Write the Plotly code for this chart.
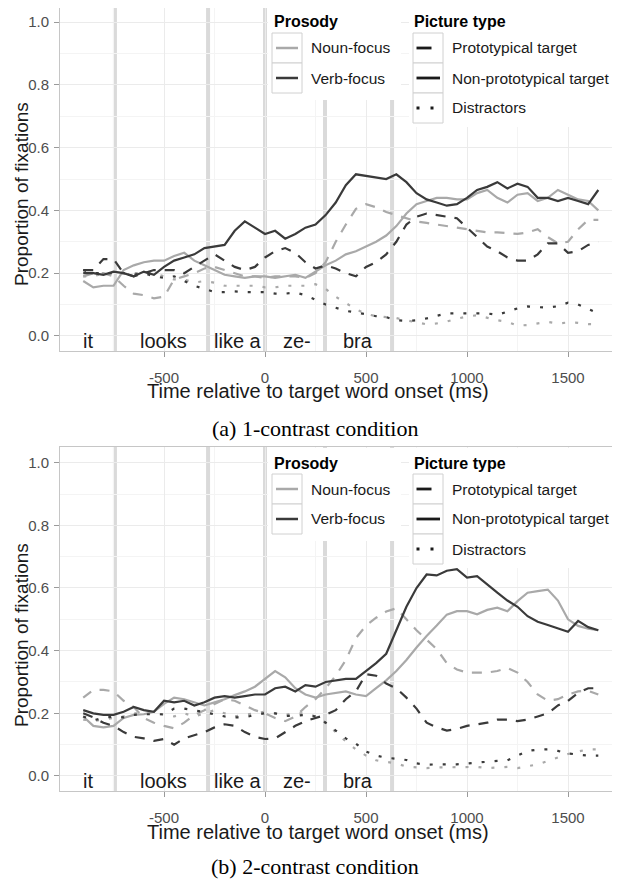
import plotly.graph_objects as go

# ---------------- data ----------------
times = [-900, -850, -800, -750, -700, -650, -600, -550, -500, -450,
         -400, -350, -300, -250, -200, -150, -100, -50, 0, 50,
         100, 150, 200, 250, 300, 350, 400, 450, 500, 550,
         600, 650, 700, 750, 800, 850, 900, 950, 1000, 1050,
         1100, 1150, 1200, 1250, 1300, 1350, 1400, 1450, 1500, 1550,
         1600, 1650]

# (a) 1-contrast condition
a_noun_proto = [0.19, 0.20, 0.20, 0.19, 0.16, 0.135, 0.13, 0.12, 0.125, 0.18,
                0.19, 0.20, 0.215, 0.22, 0.21, 0.20, 0.19, 0.19, 0.185, 0.19,
                0.19, 0.19, 0.185, 0.20, 0.235, 0.30, 0.355, 0.405, 0.42, 0.41,
                0.395, 0.385, 0.375, 0.365, 0.36, 0.355, 0.35, 0.345, 0.34, 0.335,
                0.33, 0.33, 0.328, 0.325, 0.33, 0.34, 0.315, 0.295, 0.30, 0.34,
                0.37, 0.37]
a_noun_nonproto = [0.175, 0.155, 0.16, 0.16, 0.21, 0.225, 0.235, 0.24, 0.24, 0.255,
                   0.265, 0.24, 0.225, 0.21, 0.195, 0.19, 0.185, 0.19, 0.19, 0.185,
                   0.19, 0.195, 0.185, 0.205, 0.225, 0.24, 0.26, 0.27, 0.285, 0.30,
                   0.32, 0.35, 0.39, 0.42, 0.43, 0.44, 0.44, 0.435, 0.435, 0.455,
                   0.465, 0.44, 0.425, 0.45, 0.455, 0.43, 0.44, 0.465, 0.45, 0.435,
                   0.43, 0.40]
a_noun_distr = [0.19, 0.19, 0.20, 0.20, 0.20, 0.20, 0.20, 0.20, 0.19, 0.18,
                0.18, 0.17, 0.175, 0.17, 0.16, 0.16, 0.16, 0.16, 0.155, 0.155,
                0.16, 0.16, 0.16, 0.165, 0.15, 0.125, 0.105, 0.085, 0.07, 0.063,
                0.06, 0.057, 0.05, 0.043, 0.037, 0.04, 0.046, 0.055, 0.062, 0.066,
                0.058, 0.05, 0.045, 0.033, 0.035, 0.04, 0.045, 0.04, 0.043, 0.042,
                0.038, 0.038]
a_verb_proto = [0.21, 0.21, 0.245, 0.245, 0.20, 0.19, 0.20, 0.21, 0.21, 0.21,
                0.20, 0.22, 0.24, 0.26, 0.24, 0.22, 0.21, 0.22, 0.25, 0.27,
                0.28, 0.265, 0.235, 0.215, 0.225, 0.215, 0.20, 0.19, 0.22, 0.235,
                0.26, 0.30, 0.355, 0.38, 0.39, 0.385, 0.38, 0.375, 0.345, 0.315,
                0.285, 0.27, 0.25, 0.24, 0.24, 0.26, 0.295, 0.295, 0.265, 0.27,
                0.29, 0.30]
a_verb_nonproto = [0.20, 0.20, 0.195, 0.205, 0.20, 0.19, 0.205, 0.195, 0.22, 0.24,
                   0.25, 0.26, 0.28, 0.285, 0.29, 0.335, 0.365, 0.345, 0.325, 0.335,
                   0.31, 0.325, 0.345, 0.355, 0.385, 0.425, 0.48, 0.515, 0.51, 0.505,
                   0.50, 0.515, 0.49, 0.455, 0.435, 0.425, 0.415, 0.42, 0.44, 0.465,
                   0.475, 0.49, 0.47, 0.485, 0.475, 0.44, 0.44, 0.43, 0.44, 0.43,
                   0.42, 0.465]
a_verb_distr = [0.21, 0.20, 0.20, 0.20, 0.20, 0.195, 0.20, 0.19, 0.185, 0.19,
                0.175, 0.16, 0.15, 0.14, 0.14, 0.142, 0.14, 0.14, 0.14, 0.135,
                0.135, 0.138, 0.13, 0.115, 0.10, 0.09, 0.08, 0.075, 0.068, 0.063,
                0.06, 0.05, 0.048, 0.05, 0.056, 0.065, 0.072, 0.072, 0.072, 0.072,
                0.072, 0.067, 0.078, 0.088, 0.094, 0.092, 0.09, 0.095, 0.106, 0.10,
                0.085, 0.072]

# (b) 2-contrast condition
b_noun_proto = [0.25, 0.275, 0.275, 0.27, 0.24, 0.22, 0.185, 0.17, 0.16, 0.152,
                0.17, 0.195, 0.21, 0.23, 0.245, 0.24, 0.225, 0.21, 0.20, 0.185,
                0.175, 0.19, 0.22, 0.245, 0.28, 0.32, 0.37, 0.44, 0.48, 0.505,
                0.525, 0.535, 0.50, 0.465, 0.435, 0.405, 0.36, 0.34, 0.33, 0.33,
                0.33, 0.335, 0.345, 0.33, 0.30, 0.26, 0.24, 0.245, 0.26, 0.27,
                0.272, 0.26]
b_noun_nonproto = [0.19, 0.16, 0.155, 0.16, 0.185, 0.195, 0.197, 0.205, 0.23, 0.25,
                   0.245, 0.235, 0.225, 0.235, 0.245, 0.258, 0.27, 0.285, 0.31, 0.335,
                   0.315, 0.28, 0.26, 0.25, 0.26, 0.265, 0.27, 0.26, 0.255, 0.28,
                   0.305, 0.335, 0.37, 0.41, 0.447, 0.48, 0.515, 0.526, 0.526, 0.516,
                   0.53, 0.537, 0.526, 0.558, 0.585, 0.59, 0.595, 0.56, 0.50, 0.479,
                   0.47, 0.465]
b_noun_distr = [0.18, 0.175, 0.18, 0.185, 0.19, 0.20, 0.20, 0.20, 0.195, 0.19,
                0.20, 0.19, 0.20, 0.21, 0.20, 0.19, 0.195, 0.20, 0.205, 0.20,
                0.195, 0.20, 0.20, 0.19, 0.17, 0.14, 0.11, 0.085, 0.065, 0.05,
                0.045, 0.04, 0.03, 0.027, 0.025, 0.027, 0.028, 0.028, 0.029, 0.029,
                0.025, 0.028, 0.029, 0.025, 0.03, 0.037, 0.048, 0.06, 0.07, 0.078,
                0.085, 0.085]
b_verb_proto = [0.20, 0.187, 0.17, 0.16, 0.14, 0.125, 0.12, 0.112, 0.118, 0.10,
                0.12, 0.13, 0.14, 0.155, 0.165, 0.16, 0.14, 0.125, 0.118, 0.12,
                0.14, 0.16, 0.175, 0.185, 0.195, 0.21, 0.245, 0.27, 0.325, 0.32,
                0.295, 0.28, 0.25, 0.215, 0.17, 0.155, 0.145, 0.15, 0.16, 0.165,
                0.17, 0.18, 0.18, 0.175, 0.18, 0.19, 0.20, 0.225, 0.24, 0.265,
                0.28, 0.28]
b_verb_nonproto = [0.21, 0.20, 0.195, 0.195, 0.205, 0.22, 0.21, 0.205, 0.24, 0.235,
                   0.24, 0.225, 0.235, 0.25, 0.255, 0.25, 0.255, 0.26, 0.26, 0.28,
                   0.285, 0.27, 0.29, 0.285, 0.30, 0.305, 0.31, 0.31, 0.335, 0.36,
                   0.39, 0.465, 0.54, 0.60, 0.643, 0.64, 0.655, 0.66, 0.633, 0.638,
                   0.61, 0.585, 0.56, 0.54, 0.51, 0.492, 0.482, 0.47, 0.46, 0.495,
                   0.475, 0.465]
b_verb_distr = [0.19, 0.178, 0.185, 0.19, 0.187, 0.195, 0.197, 0.197, 0.197, 0.215,
                0.215, 0.21, 0.203, 0.195, 0.19, 0.187, 0.187, 0.195, 0.20, 0.20,
                0.192, 0.192, 0.195, 0.19, 0.17, 0.145, 0.12, 0.103, 0.078, 0.065,
                0.058, 0.055, 0.051, 0.04, 0.036, 0.037, 0.037, 0.037, 0.04, 0.043,
                0.047, 0.048, 0.05, 0.065, 0.08, 0.084, 0.085, 0.08, 0.072, 0.068,
                0.065, 0.065]

prosody_labels = ["Noun-focus", "Verb-focus"]
picture_labels = ["Prototypical target", "Non-prototypical target", "Distractors"]
words = ["it", "looks", "like a", "ze-", "bra"]
word_positions = [-876, -505, -134, 158, 460]
word_boundaries = [-743, -282, 0, 297, 629]
x_tickvals = [-500, 0, 500, 1000, 1500]
x_ticktext = ["-500", "0", "500", "1000", "1500"]
x_minor = [-750, -250, 250, 750, 1250]
y_tickvals = [0.0, 0.2, 0.4, 0.6, 0.8, 1.0]
y_ticktext = ["0.0", "0.2", "0.4", "0.6", "0.8", "1.0"]
y_minor = [0.1, 0.3, 0.5, 0.7, 0.9]
captions = ["(a) 1-contrast condition", "(b) 2-contrast condition"]

# ---------------- styles ----------------
OFF = 8                      # page offset of the figure (body margin)
W, H = 620 - OFF, 880 - OFF  # figure size that fits the window
LIGHT = "#a9a9a9"
DARK = "#3a3a3a"
DASH = "10px,9px"
DOT = "3px,10px"
prosody_colors = [LIGHT, DARK]
picture_dashes = [DASH, "solid", DOT]
SANS = "Liberation Sans, Arial, sans-serif"
SERIF = "Liberation Serif, Times New Roman, serif"


def px(x):
    """page pixel x -> paper fraction"""
    return (x - OFF) / W


def py(y):
    """page pixel y -> paper fraction"""
    return 1 - (y - OFF) / H


fig = go.Figure()

panels = [
    dict(xa="x", ya="y", off=0,
         series=[[a_noun_proto, a_noun_nonproto, a_noun_distr],
                 [a_verb_proto, a_verb_nonproto, a_verb_distr]]),
    dict(xa="x2", ya="y2", off=441,
         series=[[b_noun_proto, b_noun_nonproto, b_noun_distr],
                 [b_verb_proto, b_verb_nonproto, b_verb_distr]]),
]

for p in panels:
    for ci, group in enumerate(p["series"]):
        for li, vals in enumerate(group):
            fig.add_trace(go.Scatter(
                x=times, y=vals, mode="lines",
                line=dict(color=prosody_colors[ci], width=2.2, dash=picture_dashes[li]),
                xaxis=p["xa"], yaxis=p["ya"], showlegend=False, hoverinfo="skip"))

axis_common = dict(
    showline=True, linecolor="#c6c6c6", linewidth=1, mirror=True,
    zeroline=False, showgrid=True, gridcolor="#ebebeb", gridwidth=1.3,
    ticks="outside", ticklen=5, tickcolor="#9a9a9a", tickwidth=1,
    tickfont=dict(family=SANS, size=15, color="#4d4d4d"),
)

ydomains = [[py(351), 1.0], [py(791), py(446.7)]]
yranges = [[-0.0478, 1.0446], [-0.048, 1.051]]
for i, p in enumerate(panels):
    xkey = "xaxis" if i == 0 else "xaxis2"
    ykey = "yaxis" if i == 0 else "yaxis2"
    fig.update_layout({
        xkey: dict(axis_common, domain=[px(60), 1], range=[-1015, 1757.4],
                   anchor=p["ya"], tickmode="array", tickvals=x_tickvals, ticktext=x_ticktext,
                   minor=dict(tickvals=x_minor, showgrid=True, gridcolor="#f4f4f4", ticks=""),
                   ticklabelstandoff=8),
        ykey: dict(axis_common, domain=ydomains[i], range=yranges[i],
                   anchor=p["xa"], tickmode="array", tickvals=y_tickvals, ticktext=y_ticktext,
                   minor=dict(tickvals=y_minor, showgrid=True, gridcolor="#f4f4f4", ticks=""),
                   ticklabelstandoff=2),
    })

shapes = []
annotations = []

for i, p in enumerate(panels):
    off = p["off"]
    yref_dom = p["ya"] + " domain"
    for b in word_boundaries:
        shapes.append(dict(type="line", xref=p["xa"], yref=yref_dom, x0=b, x1=b, y0=0, y1=1,
                           line=dict(color="#dadada", width=4), layer="below"))
    for w, wx in zip(words, word_positions):
        annotations.append(dict(xref=p["xa"], yref=p["ya"], x=wx, y=-0.016, text=w,
                                showarrow=False, font=dict(family=SANS, size=20, color="#1a1a1a")))
    # axis titles
    annotations.append(dict(xref="paper", yref="paper", x=px(318), y=py(391 + off),
                            text="Time relative to target word onset (ms)", showarrow=False,
                            xanchor="center", yanchor="middle",
                            font=dict(family=SANS, size=20, color="#1a1a1a")))
    annotations.append(dict(xref="paper", yref="paper", x=px(21), y=py(194 + off),
                            text="Proportion of fixations", showarrow=False, textangle=-90,
                            xanchor="center", yanchor="middle",
                            font=dict(family=SANS, size=19, color="#1a1a1a")))
    annotations.append(dict(xref="paper", yref="paper", x=px(315), y=py(428 + off * 0.995),
                            text=captions[i], showarrow=False, xanchor="center", yanchor="middle",
                            font=dict(family=SERIF, size=22, color="#000000")))

    # ---- legends (drawn by hand as in ggplot) ----
    shapes.append(dict(type="rect", xref="paper", yref="paper", x0=px(268), x1=px(401),
                       y0=py(100 + off), y1=py(7 + off), fillcolor="white",
                       line=dict(width=0), layer="above"))
    shapes.append(dict(type="rect", xref="paper", yref="paper", x0=px(409), x1=px(620),
                       y0=py(127 + off), y1=py(7 + off), fillcolor="white",
                       line=dict(width=0), layer="above"))
    annotations.append(dict(xref="paper", yref="paper", x=px(272), y=py(22 + off),
                            text="<b>Prosody</b>", showarrow=False, xanchor="left", yanchor="middle",
                            font=dict(family=SANS, size=16, color="#000000")))
    annotations.append(dict(xref="paper", yref="paper", x=px(412), y=py(22 + off),
                            text="<b>Picture type</b>", showarrow=False, xanchor="left", yanchor="middle",
                            font=dict(family=SANS, size=16, color="#000000")))
    for k, (lab, col) in enumerate(zip(prosody_labels, prosody_colors)):
        top = 33 + 30 * k + off
        shapes.append(dict(type="rect", xref="paper", yref="paper", x0=px(272), x1=px(302),
                           y0=py(top + 30), y1=py(top), fillcolor="white",
                           line=dict(color="#d0d0d0", width=1), layer="above"))
        shapes.append(dict(type="line", xref="paper", yref="paper", x0=px(276), x1=px(298),
                           y0=py(top + 15), y1=py(top + 15),
                           line=dict(color=col, width=2.5), layer="above"))
        annotations.append(dict(xref="paper", yref="paper", x=px(309), y=py(top + 15),
                                text=lab, showarrow=False, xanchor="left", yanchor="middle",
                                font=dict(family=SANS, size=15.5, color="#1a1a1a")))
    key_dashes = ["15px,15px", "solid", "3px,11px"]
    for k, lab in enumerate(picture_labels):
        top = 33 + 30 * k + off
        shapes.append(dict(type="rect", xref="paper", yref="paper", x0=px(413), x1=px(443),
                           y0=py(top + 30), y1=py(top), fillcolor="white",
                           line=dict(color="#d0d0d0", width=1), layer="above"))
        shapes.append(dict(type="line", xref="paper", yref="paper", x0=px(416.5), x1=px(440),
                           y0=py(top + 15), y1=py(top + 15),
                           line=dict(color="#1a1a1a", width=2.8, dash=key_dashes[k]), layer="above"))
        annotations.append(dict(xref="paper", yref="paper", x=px(450), y=py(top + 15),
                                text=lab, showarrow=False, xanchor="left", yanchor="middle",
                                font=dict(family=SANS, size=15.5, color="#1a1a1a")))

fig.update_layout(
    width=W, height=H, margin=dict(l=0, r=0, t=0, b=0),
    paper_bgcolor="white", plot_bgcolor="white",
    font=dict(family=SANS),
    shapes=shapes, annotations=annotations, showlegend=False,
)

fig.write_html("out.html")
